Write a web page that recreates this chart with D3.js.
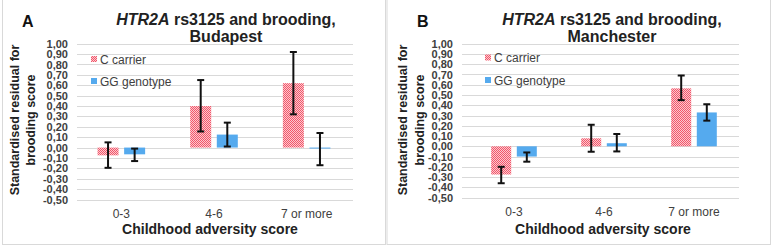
<!DOCTYPE html>
<html><head><meta charset="utf-8">
<script src="https://cdn.jsdelivr.net/npm/d3@7"></script>
<style>body{margin:0;background:#fff}svg{display:block;font-family:"Liberation Sans",Arial,sans-serif}</style>
</head><body>
<svg id="c" width="772" height="248"></svg>
<script>
const categories = ["0-3", "4-6", "7 or more"];
const seriesNames = ["C carrier", "GG genotype"];
const yTicks = d3.range(-5, 11).map(i => i / 10);

// Budapest
const budC = [-0.075, 0.40, 0.62];
const budCLo = [-0.195, 0.155, 0.32];
const budCHi = [0.05, 0.65, 0.92];
const budGG = [-0.065, 0.125, -0.008];
const budGGLo = [-0.13, 0.01, -0.17];
const budGGHi = [-0.01, 0.24, 0.14];

// Manchester
const manC = [-0.275, 0.078, 0.565];
const manCLo = [-0.36, -0.053, 0.45];
const manCHi = [-0.20, 0.21, 0.69];
const manGG = [-0.10, 0.03, 0.33];
const manGGLo = [-0.15, -0.05, 0.25];
const manGGHi = [-0.06, 0.12, 0.41];

const svg = d3.select("#c");
const defs = svg.append("defs");
const pat = defs.append("pattern").attr("id", "checker").attr("width", 2).attr("height", 2)
  .attr("patternUnits", "userSpaceOnUse");
pat.append("rect").attr("width", 2).attr("height", 2).attr("fill", "#fbc9cf");
pat.append("rect").attr("width", 1).attr("height", 1).attr("fill", "#f2566a");
pat.append("rect").attr("x", 1).attr("y", 1).attr("width", 1).attr("height", 1).attr("fill", "#f2566a");

const BLUE = "#55aaee";
const fmt = d => { let s = d3.format(".2f")(Math.abs(d) < 1e-9 ? 0 : d); return s.replace(".", ",").replace("−", "-"); };

function panel(o) {
  const g = svg.append("g");
  g.append("rect").attr("x", o.bx).attr("y", -1).attr("width", o.bw).attr("height", 245.5)
    .attr("fill", "none").attr("stroke", "#d9d9d9").attr("stroke-width", 1);

  const x = d3.scaleBand().domain(categories).range(o.band);
  const y = d3.scaleLinear().domain([-0.5, 1]).range(o.yr);

  g.append("g").selectAll("line").data(yTicks).join("line")
    .attr("x1", o.grid[0]).attr("x2", o.grid[1])
    .attr("y1", d => Math.round(y(d)) + 0.5).attr("y2", d => Math.round(y(d)) + 0.5)
    .attr("stroke", "#d9d9d9").attr("stroke-width", 1);

  const ya = g.append("g").attr("transform", `translate(${o.tickX},0)`)
    .call(d3.axisLeft(y).tickValues(yTicks).tickFormat(fmt).tickSize(0).tickPadding(0));
  ya.select(".domain").remove();
  ya.selectAll("text").attr("font-size", 11).attr("fill", "#404040")
    .attr("font-family", "Liberation Sans, Arial, sans-serif").attr("font-weight", "bold");

  const xa = g.append("g").attr("transform", `translate(0,${o.xLabY})`)
    .call(d3.axisBottom(x).tickSize(0).tickPadding(0));
  xa.select(".domain").remove();
  xa.selectAll("text").attr("font-size", 12).attr("fill", "#404040")
    .attr("font-family", "Liberation Sans, Arial, sans-serif").attr("dy", 0);

  const series = [
    { m: o.c, lo: o.cLo, hi: o.cHi, fill: "url(#checker)", off: -o.gap / 2 - o.bwid },
    { m: o.gg, lo: o.ggLo, hi: o.ggHi, fill: BLUE, off: o.gap / 2 }
  ];
  series.forEach(s => {
    const data = categories.map((c, i) => ({ c, m: s.m[i], lo: s.lo[i], hi: s.hi[i] }));
    const cx = d => x(d.c) + x.bandwidth() / 2 + s.off;
    g.append("g").selectAll("rect").data(data).join("rect")
      .attr("x", cx).attr("width", o.bwid)
      .attr("y", d => y(Math.max(0, d.m)))
      .attr("height", d => Math.max(1, Math.abs(y(d.m) - y(0))))
      .attr("fill", s.fill);
    const eb = g.append("g").selectAll("g").data(data).join("g");
    const ex = d => cx(d) + o.bwid / 2;
    eb.append("line").attr("x1", ex).attr("x2", ex).attr("y1", d => y(d.lo)).attr("y2", d => y(d.hi))
      .attr("stroke", "#111").attr("stroke-width", 2);
    ["lo", "hi"].forEach(k => {
      eb.append("line").attr("x1", d => ex(d) - 3.5).attr("x2", d => ex(d) + 3.5)
        .attr("y1", d => y(d[k])).attr("y2", d => y(d[k]))
        .attr("stroke", "#111").attr("stroke-width", 2);
    });
  });

  const leg = g.append("g");
  seriesNames.forEach((n, i) => {
    leg.append("rect").attr("x", o.legX).attr("y", o.legY[i] - 3).attr("width", 6).attr("height", 6)
      .attr("fill", i === 0 ? "url(#checker)" : BLUE);
    leg.append("text").attr("x", o.legX + 9).attr("y", o.legY[i] + 4.5).attr("font-size", 12)
      .attr("fill", "#404040").text(n);
  });

  g.append("text").attr("x", o.letX).attr("y", 27).attr("font-size", 16).attr("font-weight", "bold")
    .attr("fill", "#111").text(o.letter);

  const t = g.append("text").attr("text-anchor", "middle").attr("font-size", 16).attr("font-weight", "bold").attr("fill", "#222");
  const l1 = t.append("tspan").attr("x", o.titleX).attr("y", 25);
  l1.append("tspan").attr("font-style", "italic").text("HTR2A");
  l1.append("tspan").text(" rs3125 and brooding,");
  t.append("tspan").attr("x", o.titleX).attr("y", 41.5).text(o.city);

  const yt = g.append("text").attr("transform", `translate(${o.ytX},120) rotate(-90)`)
    .attr("text-anchor", "middle").attr("font-size", 12.5).attr("font-weight", "bold").attr("fill", "#222");
  yt.append("tspan").attr("x", 0).attr("y", 0).text("Standardised residual for");
  yt.append("tspan").attr("x", 0).attr("y", 16.5).text("brooding score");

  g.append("text").attr("x", o.xtX).attr("y", 234).attr("text-anchor", "middle").attr("font-size", 14)
    .attr("font-weight", "bold").attr("fill", "#222").text("Childhood adversity score");
}

panel({
  bx: 2.5, bw: 383, band: [75, 353], grid: [77, 353], yr: [199.5, 43.7], tickX: 68,
  xLabY: 218, gap: 5.6, bwid: 21,
  c: budC, cLo: budCLo, cHi: budCHi, gg: budGG, ggLo: budGGLo, ggHi: budGGHi,
  legX: 91, legY: [59, 81], letX: 22, letter: "A", titleX: 226, city: "Budapest",
  ytX: 18.5, xtX: 210
});
panel({
  bx: 387, bw: 383.5, band: [469, 739], grid: [462, 739], yr: [197.6, 43.7], tickX: 453,
  xLabY: 216, gap: 5.6, bwid: 20,
  c: manC, cLo: manCLo, cHi: manCHi, gg: manGG, ggLo: manGGLo, ggHi: manGGHi,
  legX: 485, legY: [57.5, 80], letX: 417, letter: "B", titleX: 612, city: "Manchester",
  ytX: 407, xtX: 603
});
</script>
</body></html>
